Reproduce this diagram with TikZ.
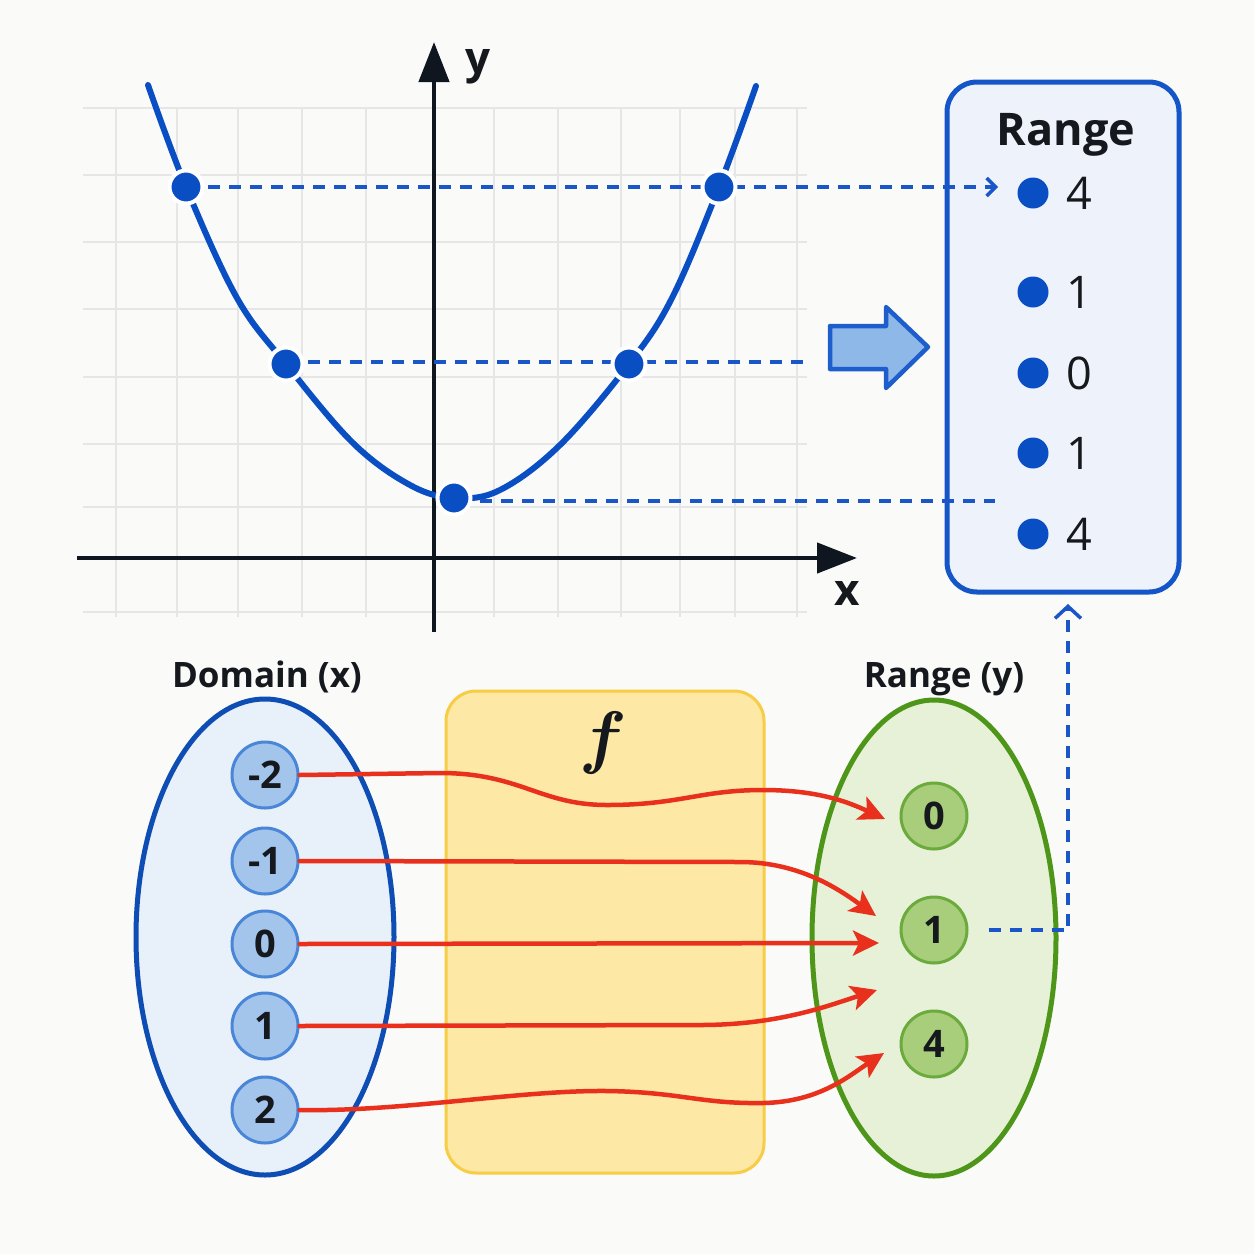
\documentclass[tikz,border=0pt]{standalone}
\usepackage{fontspec}
\usepackage{bm}
\setmainfont{Open Sans}
\usetikzlibrary{shapes.geometric,arrows.meta,calc}
\definecolor{bgc}{HTML}{FAFAF8}
\definecolor{gridc}{HTML}{E6E6E6}
\definecolor{axisc}{HTML}{0F1620}
\definecolor{curveblue}{HTML}{0A4EC4}
\definecolor{dashblue}{HTML}{1A56C8}
\definecolor{boxblue}{HTML}{1456C8}
\definecolor{boxfill}{HTML}{EEF3FB}
\definecolor{barrowfill}{HTML}{8DB8E8}
\definecolor{barrowline}{HTML}{1E5ECC}
\definecolor{domline}{HTML}{0E4DB3}
\definecolor{domfill}{HTML}{E8F0FA}
\definecolor{dcfill}{HTML}{A3C5EC}
\definecolor{dcline}{HTML}{4A86D8}
\definecolor{ffill}{HTML}{FDE8A6}
\definecolor{fline}{HTML}{F6CD45}
\definecolor{rngline}{HTML}{4E961A}
\definecolor{rngfill}{HTML}{E7F1D7}
\definecolor{rcfill}{HTML}{A8CE7C}
\definecolor{rcline}{HTML}{6BAA3C}
\definecolor{redc}{HTML}{E8301C}
\definecolor{txt}{HTML}{15181C}
\tikzset{
  gridline/.style={draw=gridc, line width=2.5pt},
  axisline/.style={draw=axisc, line width=4.5pt, -{Triangle[length=40pt,width=30pt]}},
  dashline/.style={draw=dashblue, line width=3.5pt, dash pattern=on 12pt off 9pt},
  gdot/.style={circle, fill=curveblue, draw=white, line width=4pt, minimum size=33pt, inner sep=0pt},
  rdot/.style={circle, fill=curveblue, minimum size=31pt, inner sep=0pt},
  rdigit/.style={text=txt, font=\fontsize{45}{50}\selectfont, anchor=west, inner sep=0pt},
  title/.style={text=txt, font=\fontsize{35}{40}\selectfont\bfseries, anchor=base, inner sep=0pt},
  dcirc/.style={circle, fill=dcfill, draw=dcline, line width=3pt, minimum size=66pt, inner sep=0pt, text=txt, font=\fontsize{38}{40}\selectfont\bfseries},
  rcirc/.style={circle, fill=rcfill, draw=rcline, line width=3pt, minimum size=66pt, inner sep=0pt, text=txt, font=\fontsize{38}{40}\selectfont\bfseries},
  redarrow/.style={draw=redc, line width=4.5pt, line cap=round, -{Stealth[length=26pt,width=25pt,inset=6pt]}}
}
\begin{document}
\begin{tikzpicture}[x=1pt,y=-1pt]
\useasboundingbox (0,0) rectangle (1254,1254);
\fill[bgc] (0,0) rectangle (1254,1254);

% grid
\foreach \gx in {116,177,238,302,366,494,558,621,680,735,797}
  \draw[gridline] (\gx,108) -- (\gx,617);
\foreach \gy in {108,175,242,309,377,444,507,612}
  \draw[gridline] (83,\gy) -- (807,\gy);

% axes
\coordinate (xs) at (77,558);
\coordinate (xe) at (857,558);
\coordinate (ys) at (434,632);
\coordinate (ye) at (434,42);
\draw[axisline] (xs) -- (xe);
\draw[axisline] (ys) -- (ye);
\node[text=txt, font=\fontsize{44}{48}\selectfont\bfseries, anchor=base, inner sep=0pt] (ylab) at (478,73) {y};
\node[text=txt, font=\fontsize{44}{48}\selectfont\bfseries, anchor=base, inner sep=0pt] (xlab) at (847,605) {x};

% curve
\draw[curveblue, line width=6pt, line cap=round] plot[smooth, tension=0.6] coordinates
  {(148,85) (186,187) (237,298) (286,364) (353,443) (410,485) (454,498) (500,490) (560,445) (629,364) (672,298) (719,187) (756,86)};

% range box
\node[draw=boxblue, fill=boxfill, line width=5pt, rounded corners=30pt, minimum width=232pt, minimum height=510pt, inner sep=0pt] (rbox) at (1063,337) {};
\node[text=txt, font=\fontsize{45}{50}\selectfont\bfseries, anchor=base, inner sep=0pt] (rtitle) at (1066,145) {Range};
\node[rdot] (rb1) at (1033,193) {};
\node[rdot] (rb2) at (1033,292) {};
\node[rdot] (rb3) at (1033,373) {};
\node[rdot] (rb4) at (1033,453) {};
\node[rdot] (rb5) at (1033,534) {};
\node[rdigit] (rd1) at (1066,193) {4};
\node[rdigit] (rd2) at (1066,292) {1};
\node[rdigit] (rd3) at (1066,373) {0};
\node[rdigit] (rd4) at (1066,453) {1};
\node[rdigit] (rd5) at (1066,534) {4};

% block arrow
\draw[fill=barrowfill, draw=barrowline, line width=4.5pt, line join=round]
  (830,326) -- (886,326) -- (886,307) -- (928,347) -- (886,388) -- (886,369) -- (830,369) -- cycle;

% graph points
\coordinate (p1) at (186,187);
\coordinate (p2) at (719,187);
\coordinate (p3) at (286,364);
\coordinate (p4) at (629,364);
\coordinate (p5) at (454,498);
\coordinate (e1) at (998,187);
\coordinate (e2) at (807,362);
\coordinate (e3) at (995,501);
\draw[dashline, -{Straight Barb[length=9pt,width=18pt]}] ($(p1)+(22,0)$) -- (e1);
\draw[dashline] ($(p3)+(22,-2)$) -- (e2);
\draw[dashline] ($(p5)+(26,3)$) -- (e3);
\node[gdot] (g1) at (p1) {};
\node[gdot] (g2) at (p2) {};
\node[gdot] (g3) at (p3) {};
\node[gdot] (g4) at (p4) {};
\node[gdot] (g5) at (p5) {};

% bottom part
\node[ellipse, draw=domline, fill=domfill, line width=5pt, minimum width=258pt, minimum height=476pt, inner sep=0pt] (dom) at (265,937) {};
\node[ellipse, draw=rngline, fill=rngfill, line width=5pt, minimum width=244pt, minimum height=476pt, inner sep=0pt] (rng) at (934,938) {};
\node[draw=fline, fill=ffill, line width=3pt, rounded corners=30pt, minimum width=318pt, minimum height=482pt, inner sep=0pt] (fb) at (605,932) {};
\node[text=txt, inner sep=0pt] (flab) at (603,743) {\scalebox{7}{$\bm{f}$}};
\node[title] (domlab) at (267,687) {Domain (x)};
\node[title] (rnglab) at (944,687) {Range (y)};

\node[dcirc] (dm2) at (265,775) {-2};
\node[dcirc] (dm1) at (265,861) {-1};
\node[dcirc] (d0) at (265,944) {0};
\node[dcirc] (dp1) at (265,1026) {1};
\node[dcirc] (dp2) at (265,1110) {2};

\node[rcirc] (r0) at (934,816) {0};
\node[rcirc] (r1) at (934,930) {1};
\node[rcirc] (r4) at (934,1044) {4};

\coordinate (tA) at (885,819);
\coordinate (tB) at (876,916);
\coordinate (tC) at (879,943);
\coordinate (tD) at (877,990);
\coordinate (tE) at (884,1053);

\draw[redarrow] (dm2.east) -- (440,773) .. controls (520,773) and (540,805) .. (607,805)
   .. controls (680,805) and (700,790) .. (763,790) .. controls (820,790) and (850,803) .. (tA);
\draw[redarrow] (dm1.east) -- (740,862) .. controls (800,862) and (840,890) .. (tB);
\draw[redarrow] (d0.east) -- (tC);
\draw[redarrow] (dp1.east) -- (700,1025) .. controls (780,1025) and (830,1005) .. (tD);
\draw[redarrow] (dp2.east) .. controls (400,1112) and (520,1090) .. (607,1091)
   .. controls (680,1092) and (700,1104) .. (763,1103) .. controls (820,1102) and (850,1075) .. (tE);

% dashed link to range box
\coordinate (up) at (1068,604);
\draw[dashline, -{Straight Barb[length=12pt,width=26pt]}] ($(r1.east)+(20,0)$) -| (up);
\end{tikzpicture}
\end{document}
